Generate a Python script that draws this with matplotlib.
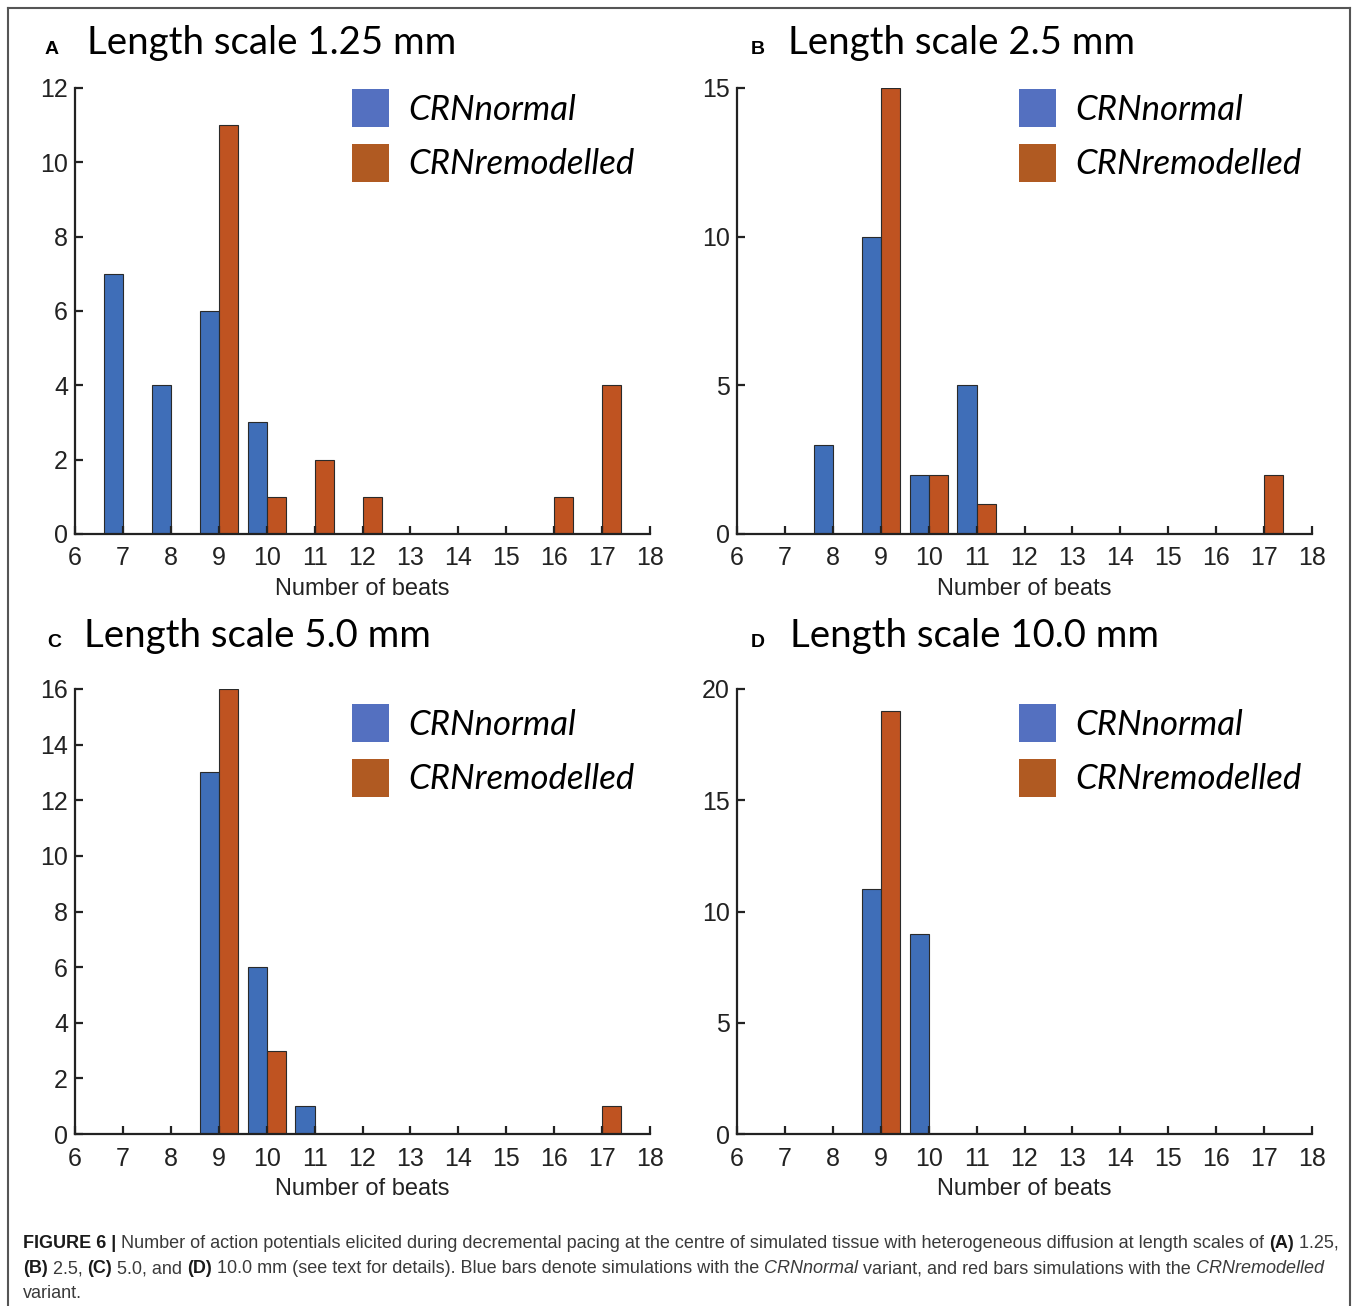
import matplotlib
matplotlib.use("Agg")
import matplotlib.pyplot as plt
from matplotlib.patches import Patch
from matplotlib.lines import Line2D

W, H = 1358, 1306

# counts of simulations per number of beats
beats = [7, 8, 9, 10, 11, 12, 13, 14, 15, 16, 17]

normal_125 = [7, 4, 6, 3, 0, 0, 0, 0, 0, 0, 0]
remod_125 = [0, 0, 11, 1, 2, 1, 0, 0, 0, 1, 4]
normal_25 = [0, 3, 10, 2, 5, 0, 0, 0, 0, 0, 0]
remod_25 = [0, 0, 15, 2, 1, 0, 0, 0, 0, 0, 2]
normal_50 = [0, 0, 13, 6, 1, 0, 0, 0, 0, 0, 0]
remod_50 = [0, 0, 16, 3, 0, 0, 0, 0, 0, 0, 1]
normal_100 = [0, 0, 11, 9, 0, 0, 0, 0, 0, 0, 0]
remod_100 = [0, 0, 19, 0, 0, 0, 0, 0, 0, 0, 0]

panels = [
    ("A", "Length scale 1.25 mm", normal_125, remod_125, [0, 2, 4, 6, 8, 10, 12]),
    ("B", "Length scale 2.5 mm", normal_25, remod_25, [0, 5, 10, 15]),
    ("C", "Length scale 5.0 mm", normal_50, remod_50, [0, 2, 4, 6, 8, 10, 12, 14, 16]),
    ("D", "Length scale 10.0 mm", normal_100, remod_100, [0, 5, 10, 15, 20]),
]
xticks = list(range(6, 19))

BLUE = "#3f6eb8"
ORANGE = "#bf5321"
BLUE_KEY = "#5470c0"
ORANGE_KEY = "#b05a22"

TICK_FONT = ["Liberation Sans", "DejaVu Sans"]
TITLE_FONT = ["Lato", "DejaVu Sans"]
CAP_FONT = ["Liberation Sans Narrow", "Liberation Sans", "DejaVu Sans"]

fig = plt.figure(figsize=(W / 100, H / 100), dpi=100)


def px_box(left, top, right, bottom):
    return [left / W, 1 - bottom / H, (right - left) / W, (bottom - top) / H]


# pixel layout per panel: axes box (left, top, right, bottom), legend top,
# letter x, heading x, heading baseline
layout = [
    ((75, 88, 650, 534), 89, 45, 87, 54),
    ((737, 88, 1312, 534), 89, 751, 788, 54),
    ((75, 689, 650, 1134), 704, 47, 84, 647),
    ((737, 689, 1312, 1134), 704, 751, 790, 647),
]

for (letter, title, normal, remod, yticks), (box, ltop, lx, tx, base_y) in zip(panels, layout):
    ax = fig.add_axes(px_box(*box))
    ax.bar([b - 0.2 for b in beats], normal, width=0.4, color=BLUE,
           edgecolor="#2a2a2a", linewidth=0.8)
    ax.bar([b + 0.2 for b in beats], remod, width=0.4, color=ORANGE,
           edgecolor="#2a2a2a", linewidth=0.8)
    ax.set_xlim(6, 18)
    ax.set_ylim(0, yticks[-1])
    ax.set_xticks(xticks)
    ax.set_yticks(yticks)
    for side in ("top", "right"):
        ax.spines[side].set_visible(False)
    for side in ("left", "bottom"):
        ax.spines[side].set_linewidth(1.6)
        ax.spines[side].set_color("#222222")
    ax.tick_params(direction="in", length=6, width=1.6, color="#222222",
                   labelsize=18)
    ax.tick_params(axis="x", pad=9)
    ax.tick_params(axis="y", pad=5)
    for lab in ax.get_xticklabels() + ax.get_yticklabels():
        lab.set_family(TICK_FONT)
        lab.set_color("#222222")
    ax.set_xlabel("Number of beats", fontsize=17, family=TICK_FONT,
                  color="#222222", labelpad=5.5)

    handles = [Patch(facecolor=BLUE_KEY, edgecolor="none"),
               Patch(facecolor=ORANGE_KEY, edgecolor="none")]
    left_px = box[0] + (277 if box[0] < 700 else 282)
    ax.legend(handles, ["CRNnormal", "CRNremodelled"], loc="upper left",
              bbox_to_anchor=(left_px / W, 1 - ltop / H),
              bbox_transform=fig.transFigure, frameon=False,
              borderpad=0, borderaxespad=0, handlelength=1.07,
              handleheight=1.32, handletextpad=0.55, labelspacing=0.47,
              prop={"family": TITLE_FONT, "style": "italic", "size": 25})

    # panel letter and heading
    fig.text(lx / W, 1 - base_y / H, letter, fontsize=14,
             weight="bold", family=TICK_FONT, va="baseline")
    fig.text(tx / W, 1 - base_y / H, title, fontsize=27.6,
             family=TITLE_FONT, va="baseline")

# frame around the figure
frame = dict(color="#555555", linewidth=1.5, transform=fig.transFigure)
fig.add_artist(Line2D([8 / W, 8 / W], [0, 1 - 8 / H], **frame))
fig.add_artist(Line2D([8 / W, 1350 / W], [1 - 8 / H, 1 - 8 / H], **frame))
fig.add_artist(Line2D([1350 / W, 1350 / W], [0, 1 - 8 / H], **frame))

# caption, written as runs of (text, weight, style)
caption = [
    [("FIGURE 6 |", "bold", "normal"),
     (" Number of action potentials elicited during decremental pacing at the centre "
      "of simulated tissue with heterogeneous diffusion at length scales of ", "normal", "normal"),
     ("(A)", "bold", "normal"), (" 1.25,", "normal", "normal")],
    [("(B)", "bold", "normal"), (" 2.5, ", "normal", "normal"),
     ("(C)", "bold", "normal"), (" 5.0, and ", "normal", "normal"),
     ("(D)", "bold", "normal"),
     (" 10.0 mm (see text for details). Blue bars denote simulations with the ",
      "normal", "normal"),
     ("CRNnormal", "normal", "italic"),
     (" variant, and red bars simulations with the ", "normal", "normal"),
     ("CRNremodelled", "normal", "italic")],
    [("variant.", "normal", "normal")],
]
baselines = [1248, 1273, 1298]
renderer = fig.canvas.get_renderer()


def draw_line(runs, x0, y, size, draw=True):
    x = x0
    for txt, weight, style in runs:
        t = fig.text(x / W, 1 - y / H, txt, fontsize=size, weight=weight,
                     style=style, family=CAP_FONT, va="baseline",
                     color="#1a1a1a" if weight == "bold" else "#3a3a3a")
        x += t.get_window_extent(renderer).width
        if not draw:
            t.remove()
    return x - x0


# size the caption so the first line spans the frame width
trial = draw_line(caption[0], 23, baselines[0], 12, draw=False)
cap_size = 12 * 1317 / trial
for runs, y in zip(caption, baselines):
    draw_line(runs, 23, y, cap_size)

fig.savefig("out.png", dpi=100)
